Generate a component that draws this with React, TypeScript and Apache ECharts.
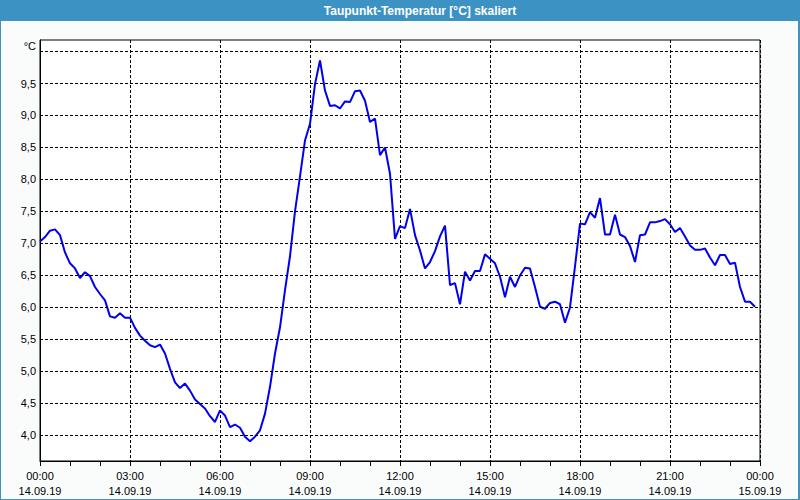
import React, { useEffect, useRef } from 'react';
import * as echarts from 'echarts';

const TITLE = 'Taupunkt-Temperatur [°C] skaliert';
const UNIT = '°C';
const SAMPLE_MINUTES = 10;

// Dew point [°C], one value every 10 minutes from 14.09.19 00:00 to 23:50
const dewPoint = [
  7.03, 7.1, 7.2, 7.22, 7.13, 6.86, 6.69, 6.61, 6.46, 6.55, 6.49, 6.32,
  6.21, 6.11, 5.86, 5.84, 5.91, 5.84, 5.84, 5.68, 5.56, 5.48, 5.41, 5.38,
  5.42, 5.28, 5.04, 4.83, 4.74, 4.81, 4.7, 4.56, 4.49, 4.42, 4.3, 4.21,
  4.39, 4.31, 4.13, 4.17, 4.12, 3.98, 3.91, 3.98, 4.08, 4.34, 4.76, 5.28,
  5.69, 6.27, 6.8, 7.5, 8.05, 8.61, 8.87, 9.49, 9.86, 9.39, 9.15, 9.16,
  9.11, 9.22, 9.21, 9.38, 9.39, 9.23, 8.9, 8.95, 8.38, 8.5, 8.09, 7.07,
  7.27, 7.24, 7.54, 7.13, 6.89, 6.61, 6.71, 6.88, 7.11, 7.28, 6.35, 6.38,
  6.05, 6.56, 6.42, 6.57, 6.57, 6.83, 6.76, 6.69, 6.48, 6.16, 6.48, 6.32,
  6.5, 6.62, 6.61, 6.32, 6.01, 5.98, 6.07, 6.09, 6.05, 5.76, 6.0, 6.64,
  7.31, 7.3, 7.49, 7.4, 7.71, 7.14, 7.14, 7.45, 7.14, 7.1, 6.96, 6.71,
  7.13, 7.14, 7.33, 7.33, 7.35, 7.38, 7.3, 7.18, 7.24, 7.11, 6.97, 6.9,
  6.9, 6.92, 6.78, 6.66, 6.82, 6.82, 6.68, 6.7, 6.32, 6.09, 6.09, 6.01,
];

const xTickHours = [0, 3, 6, 9, 12, 15, 18, 21, 24];
const xTickTimes = ['00:00', '03:00', '06:00', '09:00', '12:00', '15:00', '18:00', '21:00', '00:00'];
const xTickDates = ['14.09.19', '14.09.19', '14.09.19', '14.09.19', '14.09.19', '14.09.19', '14.09.19', '14.09.19', '15.09.19'];

const yGridValues = [4.0, 4.5, 5.0, 5.5, 6.0, 6.5, 7.0, 7.5, 8.0, 8.5, 9.0, 9.5, 10.0];
const yLabelValues = [4.0, 4.5, 5.0, 5.5, 6.0, 6.5, 7.0, 7.5, 8.0, 8.5, 9.0, 9.5];

const FONT = '"Liberation Sans", Arial, sans-serif';
const FRAME_BLUE = '#3d92c4';

export default function App() {
  const ref = useRef<HTMLDivElement>(null);

  useEffect(() => {
    if (!ref.current) return;
    const chart = echarts.init(ref.current, null, { renderer: 'svg' });
    chart.setOption({
      animation: false,
      backgroundColor: '#fafcfc',
      textStyle: { fontFamily: FONT },
      grid: {
        left: 40,
        right: 40,
        top: 40,
        bottom: 39,
        show: true,
        backgroundColor: '#ffffff',
        borderColor: '#000000',
        borderWidth: 1,
      },
      graphic: [
        {
          type: 'rect',
          shape: { x: 0, y: 0, width: 800, height: 21 },
          style: { fill: FRAME_BLUE },
          silent: true,
        },
        {
          type: 'rect',
          shape: { x: 0, y: 0, width: 1, height: 500 },
          style: { fill: FRAME_BLUE },
          silent: true,
        },
        {
          type: 'rect',
          shape: { x: 798, y: 0, width: 2, height: 500 },
          style: { fill: FRAME_BLUE },
          silent: true,
        },
        {
          type: 'rect',
          shape: { x: 0, y: 499, width: 800, height: 1 },
          style: { fill: FRAME_BLUE },
          silent: true,
        },
        {
          type: 'text',
          x: 420,
          y: 11,
          style: {
            text: TITLE,
            fill: '#ffffff',
            font: 'bold 12px ' + FONT,
            align: 'center',
            verticalAlign: 'middle',
          },
          silent: true,
        },
        {
          type: 'text',
          x: 36,
          y: 46,
          style: {
            text: UNIT,
            fill: '#000000',
            font: '11px ' + FONT,
            align: 'right',
            verticalAlign: 'middle',
          },
          silent: true,
        },
      ],
      xAxis: {
        type: 'value',
        min: 0,
        max: 24,
        interval: 3,
        axisLine: { show: true, lineStyle: { color: '#000000', width: 1 } },
        axisTick: { show: true, length: 5, lineStyle: { color: '#000000' } },
        minorTick: { show: true, splitNumber: 3, length: 5, lineStyle: { color: '#000000' } },
        splitLine: { show: true, lineStyle: { color: '#000000', type: [3, 2], width: 1 } },
        axisLabel: {
          margin: 7,
          color: '#000000',
          fontSize: 11,
          lineHeight: 15,
          fontFamily: FONT,
          formatter: (v: number) => {
            const idx = xTickHours.findIndex((h) => Math.abs(h - v) < 1e-6);
            if (idx < 0) return '';
            return xTickTimes[idx] + '\n' + xTickDates[idx];
          },
        },
      },
      yAxis: {
        type: 'value',
        min: 3.6,
        max: 10.18,
        interval: 0.1,
        axisLine: { show: true, lineStyle: { color: '#000000', width: 1 } },
        axisTick: { show: false },
        splitLine: { show: false },
        axisLabel: {
          margin: 4,
          color: '#000000',
          fontSize: 11,
          fontFamily: FONT,
          formatter: (v: number) => {
            const ok = yLabelValues.some((t) => Math.abs(t - v) < 1e-6);
            return ok ? v.toFixed(1).replace('.', ',') : '';
          },
        },
      },
      series: [
        {
          type: 'line',
          data: [],
          z: 1,
          silent: true,
          markLine: {
            silent: true,
            symbol: ['none', 'none'],
            label: { show: false },
            lineStyle: { color: '#000000', type: [3, 2], width: 1 },
            data: yGridValues.map((v) => ({ yAxis: v })),
          },
        },
        {
          type: 'line',
          z: 3,
          showSymbol: false,
          silent: true,
          data: dewPoint.map((v, i) => [(i * SAMPLE_MINUTES) / 60, v]),
          lineStyle: { color: '#0000ee', width: 2 },
          itemStyle: { color: '#0000ee' },
        },
      ],
    });
    return () => chart.dispose();
  }, []);

  return (
    <div
      ref={ref}
      style={{ position: 'fixed', left: 0, top: 0, width: 800, height: 500 }}
    />
  );
}
